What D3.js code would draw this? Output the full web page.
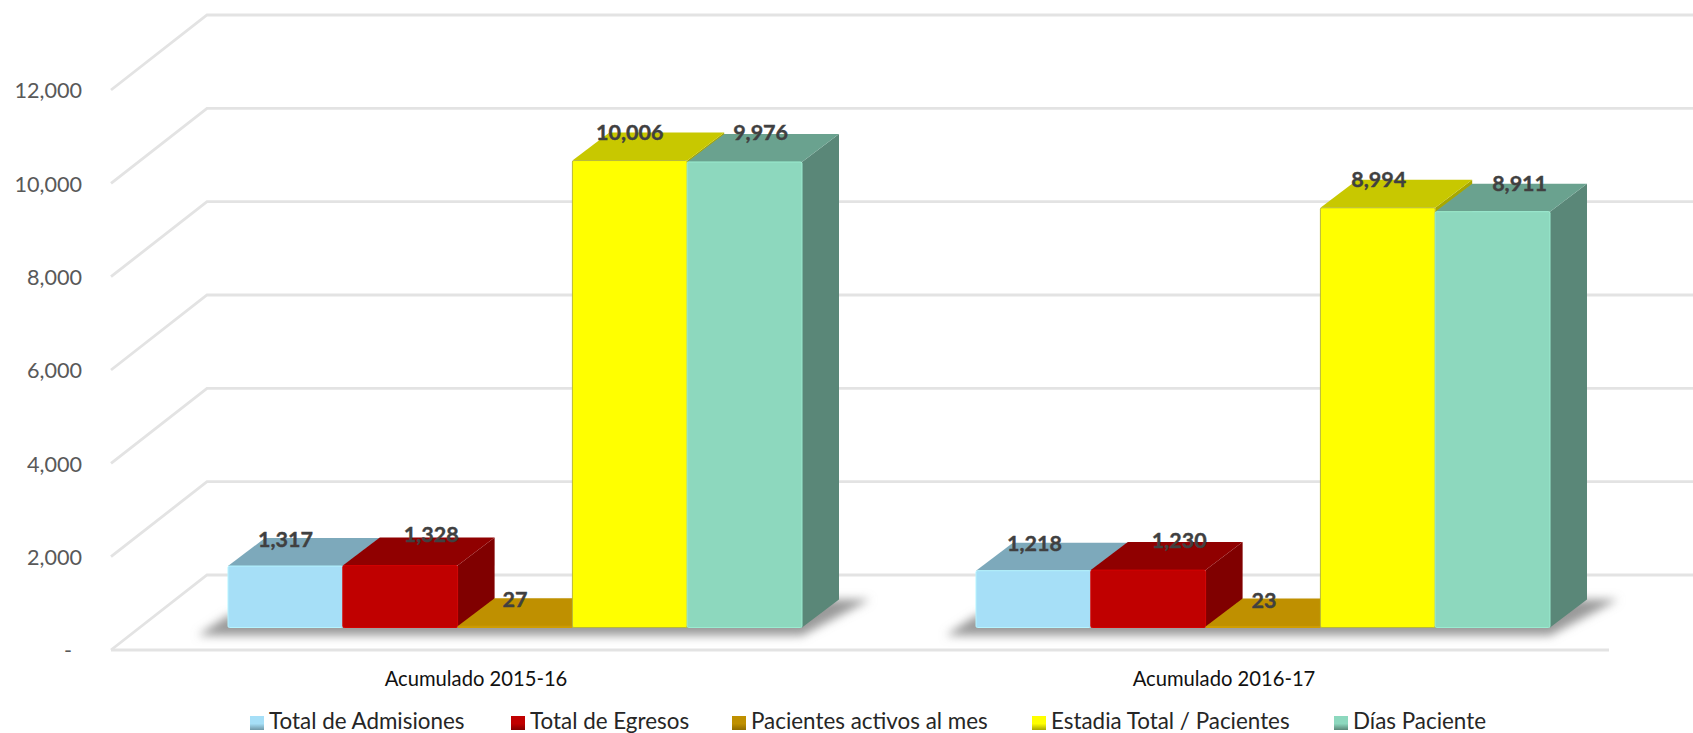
<!DOCTYPE html>
<html><head><meta charset="utf-8">
<script src="https://cdn.jsdelivr.net/npm/d3@7"></script>
<style>html,body{margin:0;background:#fff}svg{display:block}text{font-family:Lato,"Open Sans",sans-serif}</style>
</head><body><svg id="c" width="1693" height="733"></svg>
<script>
const categories = ["Acumulado 2015-16", "Acumulado 2016-17"];
const seriesNames = ["Total de Admisiones", "Total de Egresos", "Pacientes activos al mes", "Estadia Total / Pacientes", "Días Paciente"];
const admisiones = [1317, 1218];
const egresos = [1328, 1230];
const activos = [27, 23];
const estadia = [10006, 8994];
const dias = [9976, 8911];
const seriesValues = [admisiones, egresos, activos, estadia, dias];
const tickValues = [0, 2000, 4000, 6000, 8000, 10000, 12000];
const tickLabels = ["-", "2,000", "4,000", "6,000", "8,000", "10,000", "12,000"];

const front = ["#A6DFF7", "#C00000", "#BF9000", "#FFFF00", "#8DD8BE"];
const top_ = ["#7DA9BB", "#900000", "#BF9000", "#C8C800", "#6AA28F"];
const side = ["#6F98A8", "#800000", "#8F6C00", "#A8A800", "#5A8778"];
const labelDx = [[0, 31, 0, 0, 16], [1, 31, 1, 1, 27]];
const labelDy = [[-25, -29, -25, -26, -27], [-25, -28, -24, -26, -26]];

const svg = d3.select("#c");
const defs = svg.append("defs");
defs.append("filter").attr("id", "soft").attr("x", "-5%").attr("y", "-5%").attr("width", "110%").attr("height", "110%")
  .append("feGaussianBlur").attr("stdDeviation", 0.7);
defs.append("filter").attr("id", "line").attr("filterUnits", "userSpaceOnUse").attr("x", 0).attr("y", 0).attr("width", 1693).attr("height", 733)
  .append("feGaussianBlur").attr("stdDeviation", 0.6);
defs.append("filter").attr("id", "shadow").attr("x", "-10%").attr("y", "-60%").attr("width", "120%").attr("height", "220%")
  .append("feGaussianBlur").attr("stdDeviation", 5);
front.forEach((c, i) => {
  const lg = defs.append("linearGradient").attr("id", "lg" + i).attr("x1", 0).attr("y1", 0).attr("x2", 0).attr("y2", 1);
  lg.append("stop").attr("offset", "0%").attr("stop-color", c);
  lg.append("stop").attr("offset", "55%").attr("stop-color", c);
  lg.append("stop").attr("offset", "100%").attr("stop-color", side[i]);
});

// plot frame
const floorY = 650, plotH = 560, depthX = 96, depthY = 75;
const y = d3.scaleLinear().domain([0, 12000]).range([floorY, floorY - plotH]);
const gridX0 = 111, gridX1 = 1609;

const barFloorY = 627.5, barDX = 37, barDY = 28;
const h = d3.scaleLinear().domain([0, 12000]).range([0, plotH]);
const x0 = d3.scaleBand().domain(categories).range([141, 1637]).paddingInner(174 / 748).paddingOuter(87 / 748);
const x1 = d3.scaleBand().domain(seriesNames).range([0, x0.bandwidth()]);

// gridlines
const grid = svg.append("g").attr("fill", "none").attr("stroke", "#E3E3E3").attr("stroke-width", 2.8).attr("filter", "url(#line)");
grid.selectAll("path").data(tickValues).join("path")
  .attr("d", v => {
    const p = d3.path();
    p.moveTo(gridX0, y(v)); p.lineTo(gridX0 + depthX, y(v) - depthY); p.lineTo(1693, y(v) - depthY);
    return p.toString();
  });
grid.append("path").attr("d", `M${gridX0},${floorY}H${gridX1}`);

// y axis
const axis = svg.append("g").attr("transform", "translate(82,1)")
  .call(d3.axisLeft(y).tickValues(tickValues).tickSize(0).tickPadding(0).tickFormat((d, i) => tickLabels[i]));
axis.select(".domain").remove();
axis.selectAll("text").attr("font-size", 21.6).attr("fill", "#595959").style("font-family", "Lato")
  .attr("dx", d => d === 0 ? -10 : 0);

// x labels
svg.append("g").selectAll("text").data(categories).join("text")
  .attr("x", d => x0(d) + x0.bandwidth() / 2 - 39).attr("y", 681)
  .attr("text-anchor", "middle").attr("dominant-baseline", "middle")
  .attr("font-size", 20.2).attr("fill", "#111").text(d => d);

// bars
categories.forEach((cat, ci) => {
  const gx = x0(cat);
  const xs = seriesNames.map(s => gx + x1(s));
  const w = x1.bandwidth();
  // floor shadow
  const L = xs[0], R = xs[4] + w;
  svg.append("path").attr("filter", "url(#shadow)").attr("fill", "#9A9A9A")
    .attr("d", `M${L - 30},${barFloorY + 8}L${R},${barFloorY + 8}L${R + 68},${barFloorY - 28}L${R},${barFloorY - 28}L${L},${barFloorY - 12}Z`);
  const g = svg.append("g").attr("filter", "url(#soft)");
  seriesNames.forEach((s, si) => {
    const v = seriesValues[si][ci];
    const x = xs[si], bh = h(v), t = barFloorY - bh;
    g.append("path").attr("fill", side[si])
      .attr("d", `M${x + w},${t}L${x + w + barDX},${t - barDY}V${barFloorY - barDY}L${x + w},${barFloorY}Z`);
    g.append("path").attr("fill", top_[si])
      .attr("d", `M${x},${t}L${x + barDX},${t - barDY}H${x + w + barDX}L${x + w},${t}Z`);
    g.append("rect").attr("x", x).attr("y", t).attr("width", w).attr("height", bh).attr("rx", 1.5)
      .attr("fill", front[si]).attr("stroke", si === 3 ? "#B8B83A" : d3.color(front[si]).brighter(0.25).formatHex())
      .attr("stroke-width", 1);
  });
  svg.append("g").selectAll("text").data(seriesNames).join("text")
    .attr("x", (s, i) => xs[i] + w / 2 + labelDx[ci][i])
    .attr("y", (s, i) => barFloorY - h(seriesValues[i][ci]) + labelDy[ci][i])
    .attr("text-anchor", "middle").attr("dominant-baseline", "middle")
    .attr("font-size", 21.5).attr("font-weight", 700).attr("fill", "#404040")
    .attr("stroke", "#404040").attr("stroke-width", 0.4)
    .text((s, i) => d3.format(",")(seriesValues[i][ci]));
});

// legend
const legendX = [250, 511, 732, 1032, 1334];
const lg = svg.append("g").selectAll("g").data(seriesNames).join("g")
  .attr("transform", (d, i) => `translate(${legendX[i]},722)`);
lg.append("rect").attr("x", 0).attr("y", -6).attr("width", 14).attr("height", 14).attr("fill", (d, i) => `url(#lg${i})`);
lg.append("text").attr("x", 19).attr("y", 1).attr("dominant-baseline", "middle")
  .attr("font-size", 22.4).attr("fill", "#262626").text(d => d);
</script></body></html>
